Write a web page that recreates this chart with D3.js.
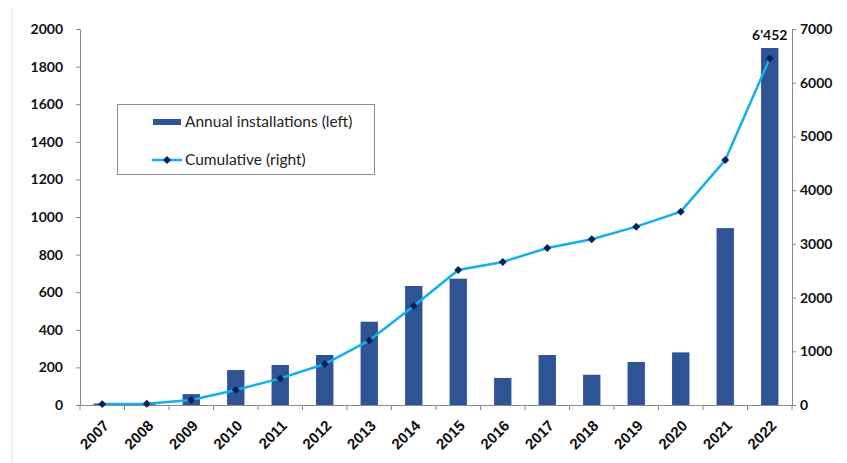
<!DOCTYPE html>
<html>
<head>
<meta charset="utf-8">
<script src="https://cdn.jsdelivr.net/npm/d3@7"></script>
<style>
  body { margin: 0; background: #fff; }
  svg { display: block; font-family: Lato, "Open Sans", sans-serif; }
</style>
</head>
<body>
<svg width="847" height="463"></svg>
<script>
// values
const years = ['2007', '2008', '2009', '2010', '2011', '2012', '2013', '2014',
  '2015', '2016', '2017', '2018', '2019', '2020', '2021', '2022'];
const annual = [8, 5, 58, 186, 213, 266, 443, 633, 672, 144, 266, 161, 229, 280, 941, 1899];
const cumulative = [17, 22, 93, 279, 495, 763, 1203, 1843, 2514, 2663, 2924, 3086, 3320, 3600, 4562, 6452];
const leftTicks = [0, 200, 400, 600, 800, 1000, 1200, 1400, 1600, 1800, 2000];
const rightTicks = [0, 1000, 2000, 3000, 4000, 5000, 6000, 7000];
const lastLabel = "6'452";

const svg = d3.select('svg');
const plotLeft = 80, plotRight = 792, plotTop = 29, plotBottom = 405;

const data = years.map((y, i) => ({ year: y, annual: annual[i], cum: cumulative[i] }));

const x = d3.scaleBand().domain(years).range([plotLeft, plotRight]).padding(0);
const yL = d3.scaleLinear().domain([0, 2000]).range([plotBottom, plotTop]);
const yR = d3.scaleLinear().domain([0, 7000]).range([plotBottom, plotTop]);

const barW = x.bandwidth() * 0.39;
const axisColor = '#8a8a8a';
const plain = d3.format('d');

// faint frame edge on the left
svg.append('line')
  .attr('x1', 12).attr('x2', 12).attr('y1', 8).attr('y2', 463)
  .attr('stroke', '#e2e2e2').attr('stroke-width', 1);

// bars
svg.selectAll('rect.bar')
  .data(data)
  .enter()
  .append('rect')
  .attr('class', 'bar')
  .attr('x', (d) => x(d.year) + (x.bandwidth() - barW) / 2)
  .attr('y', (d) => yL(d.annual))
  .attr('width', barW)
  .attr('height', (d) => plotBottom - yL(d.annual))
  .attr('fill', '#2f5496');

// left axis
const gL = svg.append('g')
  .attr('transform', `translate(${plotLeft},0)`)
  .call(d3.axisLeft(yL).tickValues(leftTicks).tickFormat(plain)
    .tickSize(4).tickPadding(13).tickSizeOuter(0));

// right axis
const gR = svg.append('g')
  .attr('transform', `translate(${plotRight},0)`)
  .call(d3.axisRight(yR).tickValues(rightTicks).tickFormat(plain)
    .tickSize(4).tickPadding(4).tickSizeOuter(0));

// x axis, ticks on band edges
const gX = svg.append('g')
  .attr('transform', `translate(0,${plotBottom})`)
  .call(d3.axisBottom(x).tickSize(0).tickFormat(''));
gX.selectAll('line.edge')
  .data(years.concat(['end']))
  .enter()
  .append('line')
  .attr('class', 'edge')
  .attr('x1', (d, i) => plotLeft + i * x.step())
  .attr('x2', (d, i) => plotLeft + i * x.step())
  .attr('y1', 0).attr('y2', 5)
  .attr('stroke', axisColor);
gX.selectAll('text.year')
  .data(years)
  .enter()
  .append('text')
  .attr('class', 'year')
  .attr('transform', (d) => `translate(${x(d) + x.bandwidth() / 2 + 4},${18}) rotate(-45)`)
  .attr('text-anchor', 'end')
  .attr('dy', '0.35em')
  .attr('fill', '#111')
  .attr('font-size', 15)
  .attr('font-weight', 'bold')
  .text((d) => d);

[gL, gR, gX].forEach((g) => {
  g.select('.domain').attr('stroke', axisColor);
  g.selectAll('.tick line').attr('stroke', axisColor);
  g.selectAll('.tick text')
    .attr('fill', '#111')
    .attr('font-size', 14)
    .attr('font-weight', 'bold')
    .attr('font-family', 'Lato, sans-serif');
});

// cumulative line
const line = d3.line()
  .x((d) => x(d.year) + x.bandwidth() / 2)
  .y((d) => yR(d.cum));

svg.append('path')
  .datum(data)
  .attr('d', line)
  .attr('fill', 'none')
  .attr('stroke', '#12b0ec')
  .attr('stroke-width', 2.5);

const diamond = d3.symbol().type(d3.symbolDiamond2).size(40);
svg.selectAll('path.marker')
  .data(data)
  .enter()
  .append('path')
  .attr('class', 'marker')
  .attr('d', diamond)
  .attr('transform', (d) => `translate(${x(d.year) + x.bandwidth() / 2},${yR(d.cum)})`)
  .attr('fill', '#0b1f5e');

// label on last point
svg.append('text')
  .attr('x', x(years[years.length - 1]) + x.bandwidth() / 2)
  .attr('y', 40)
  .attr('text-anchor', 'middle')
  .attr('font-size', 14)
  .attr('font-weight', 'bold')
  .attr('fill', '#111')
  .text(lastLabel);

// legend
const lg = svg.append('g');
lg.append('rect')
  .attr('x', 117.5).attr('y', 104.5)
  .attr('width', 257).attr('height', 70)
  .attr('fill', '#fff').attr('stroke', '#8c8c8c');
lg.append('rect')
  .attr('x', 153).attr('y', 119)
  .attr('width', 28).attr('height', 6)
  .attr('fill', '#2f5496');
lg.append('text')
  .attr('x', 185).attr('y', 122).attr('dy', '0.35em')
  .attr('font-size', 15.5).attr('fill', '#222')
  .text('Annual installations (left)');
lg.append('line')
  .attr('x1', 152).attr('x2', 182).attr('y1', 160).attr('y2', 160)
  .attr('stroke', '#12b0ec').attr('stroke-width', 2.5);
lg.append('path')
  .attr('d', diamond)
  .attr('transform', 'translate(167,160)')
  .attr('fill', '#0b1f5e');
lg.append('text')
  .attr('x', 185).attr('y', 160).attr('dy', '0.35em')
  .attr('font-size', 15.5).attr('fill', '#222')
  .text('Cumulative (right)');
</script>
</body>
</html>
